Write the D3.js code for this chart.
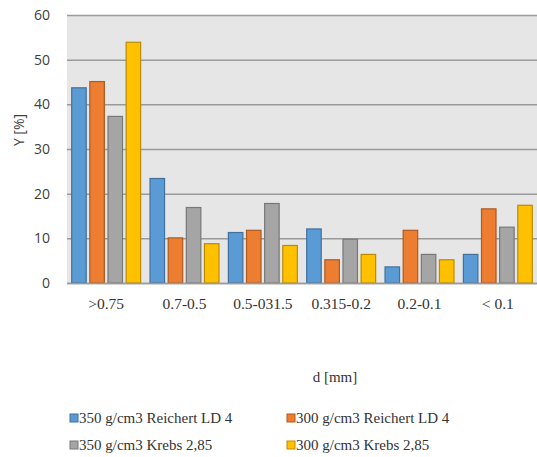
<!DOCTYPE html>
<html><head><meta charset="utf-8">
<script src="https://cdn.jsdelivr.net/npm/d3@7"></script>
<style>body{margin:0;background:#fff}</style>
</head><body>
<svg id="c" width="537" height="457"></svg>
<script>
const categories = [">0.75", "0.7-0.5", "0.5-031.5", "0.315-0.2", "0.2-0.1", "< 0.1"];
const seriesNames = ["350 g/cm3 Reichert LD 4", "300 g/cm3 Reichert LD 4", "350 g/cm3 Krebs 2,85", "300 g/cm3 Krebs 2,85"];
const s350Reichert = [43.7, 23.4, 11.3, 12.1, 3.6, 6.4];
const s300Reichert = [45.1, 10.1, 11.8, 5.2, 11.8, 16.6];
const s350Krebs = [37.3, 16.9, 17.8, 9.8, 6.4, 12.5];
const s300Krebs = [53.9, 8.8, 8.4, 6.4, 5.2, 17.4];
const yTicks = [0, 10, 20, 30, 40, 50, 60];

const seriesValues = [s350Reichert, s300Reichert, s350Krebs, s300Krebs];
const fills = ["#5B9BD5", "#ED7D31", "#A5A5A5", "#FFC000"];
const strokes = ["#41719C", "#AE5A21", "#787878", "#BC8C00"];

const svg = d3.select("#c");
const m = {l: 67, r: 537, t: 15, b: 283};
const x0 = d3.scaleBand().domain(categories).range([m.l, m.r]).paddingInner(0.12).paddingOuter(0.06);
const x1 = d3.scaleBand().domain(d3.range(4)).range([0, x0.bandwidth()]).paddingInner(0.2);
const y = d3.scaleLinear().domain([0, 60]).range([m.b, m.t]);

svg.append("rect").attr("x", m.l).attr("y", m.t).attr("width", m.r - m.l).attr("height", m.b - m.t).attr("fill", "#e6e6e6");

const yAxis = d3.axisLeft(y).tickValues(yTicks).tickSize(-(m.r - m.l)).tickPadding(17);
const ga = svg.append("g").attr("transform", `translate(${m.l},0)`).call(yAxis);
ga.select(".domain").remove();
ga.selectAll(".tick line").attr("stroke", "#9a9a9a").attr("stroke-width", 1.5);
ga.selectAll(".tick text").attr("font-family", "Open Sans, sans-serif").attr("font-size", 14).attr("fill", "#404040");

const groups = svg.append("g").selectAll("g").data(categories).join("g")
  .attr("transform", d => `translate(${x0(d)},0)`);
groups.selectAll("rect").data((d, i) => seriesValues.map((s, k) => ({k, v: s[i]}))).join("rect")
  .attr("x", d => x1(d.k)).attr("width", x1.bandwidth())
  .attr("y", d => y(d.v)).attr("height", d => y(0) - y(d.v))
  .attr("fill", d => fills[d.k]).attr("stroke", d => strokes[d.k]).attr("stroke-width", 1.2);

const xAxis = d3.axisBottom(x0).tickSize(0).tickPadding(15);
const gx = svg.append("g").attr("transform", `translate(0,${m.b})`).call(xAxis);
gx.select(".domain").attr("stroke", "#9a9a9a").attr("stroke-width", 1.5);
gx.selectAll(".tick text").attr("font-family", "Liberation Serif, serif").attr("font-size", 15.5).attr("fill", "#333");

svg.append("text").attr("transform", "translate(24,130) rotate(-90)").attr("text-anchor", "middle")
  .attr("font-family", "Open Sans, sans-serif").attr("font-size", 14).attr("fill", "#404040").text("Y [%]");
svg.append("text").attr("x", 335).attr("y", 382).attr("text-anchor", "middle")
  .attr("font-family", "Liberation Serif, serif").attr("font-size", 15).attr("fill", "#333").text("d [mm]");

const leg = svg.append("g");
const lp = [[70, 418], [287, 418], [70, 445], [287, 445]];
seriesNames.forEach((n, k) => {
  const g = leg.append("g").attr("transform", `translate(${lp[k][0]},${lp[k][1]})`);
  g.append("rect").attr("x", 0).attr("y", -4).attr("width", 8).attr("height", 8)
    .attr("fill", fills[k]).attr("stroke", strokes[k]).attr("stroke-width", 1);
  g.append("text").attr("x", 9).attr("y", 5).attr("font-family", "Liberation Serif, serif").attr("font-size", 15)
    .attr("fill", "#333").text(n);
});
</script>
</body></html>
